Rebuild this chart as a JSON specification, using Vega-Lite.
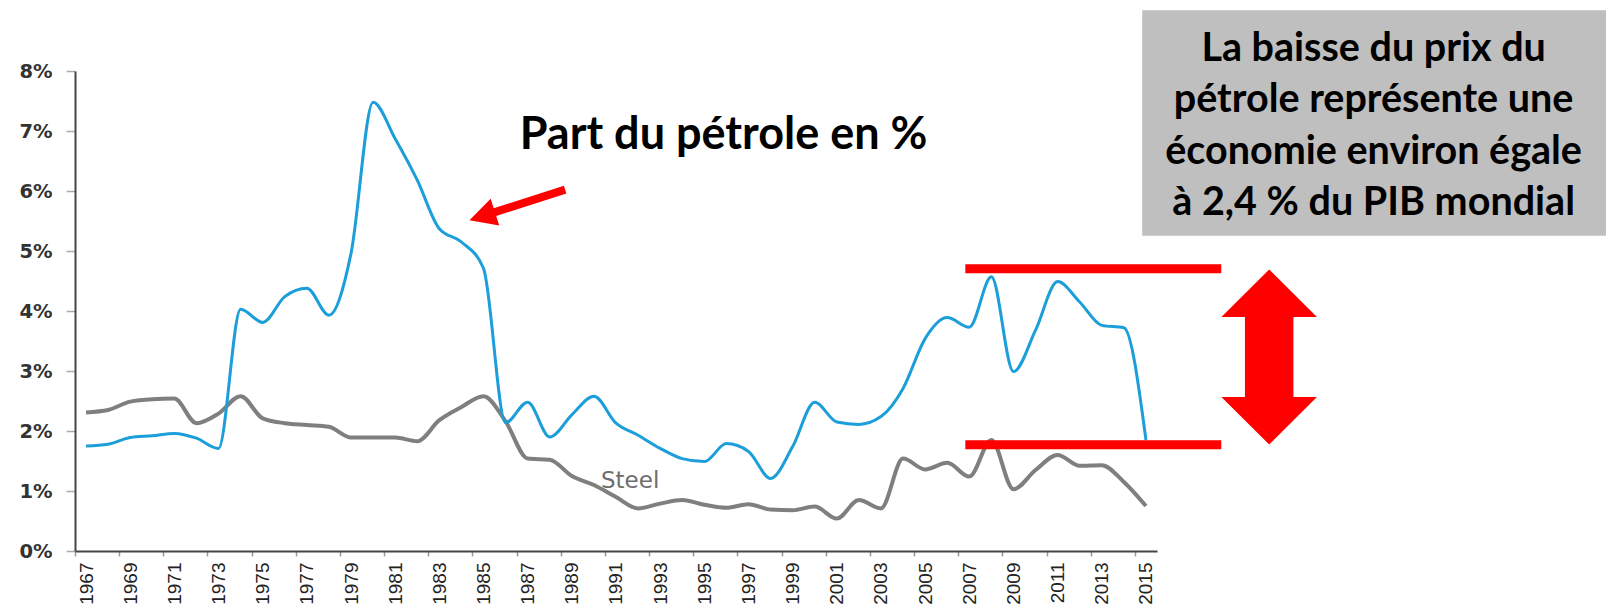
{
  "$schema": "https://vega.github.io/schema/vega-lite/v6.json",
  "width": 1082,
  "height": 480,
  "autosize": {"type": "none"},
  "padding": {"left": 75, "top": 71, "right": 449, "bottom": 56},
  "background": "white",
  "config": {"view": {"stroke": null}},
  "datasets": {
    "shares": [
      {"year": 1967, "oil": 1.75, "steel": 2.31},
      {"year": 1968, "oil": 1.78, "steel": 2.35},
      {"year": 1969, "oil": 1.89, "steel": 2.49},
      {"year": 1970, "oil": 1.92, "steel": 2.53},
      {"year": 1971, "oil": 1.96, "steel": 2.54},
      {"year": 1972, "oil": 1.88, "steel": 2.13},
      {"year": 1973, "oil": 1.71, "steel": 2.29},
      {"year": 1974, "oil": 4.03, "steel": 2.58},
      {"year": 1975, "oil": 3.81, "steel": 2.21},
      {"year": 1976, "oil": 4.24, "steel": 2.13},
      {"year": 1977, "oil": 4.38, "steel": 2.10},
      {"year": 1978, "oil": 3.93, "steel": 2.07},
      {"year": 1979, "oil": 4.96, "steel": 1.89},
      {"year": 1980, "oil": 7.48, "steel": 1.89},
      {"year": 1981, "oil": 6.87, "steel": 1.89},
      {"year": 1982, "oil": 6.18, "steel": 1.83},
      {"year": 1983, "oil": 5.37, "steel": 2.18},
      {"year": 1984, "oil": 5.15, "steel": 2.40},
      {"year": 1985, "oil": 4.71, "steel": 2.58},
      {"year": 1986, "oil": 2.14, "steel": 2.16},
      {"year": 1987, "oil": 2.48, "steel": 1.54},
      {"year": 1988, "oil": 1.90, "steel": 1.52},
      {"year": 1989, "oil": 2.27, "steel": 1.25},
      {"year": 1990, "oil": 2.58, "steel": 1.10},
      {"year": 1991, "oil": 2.13, "steel": 0.90},
      {"year": 1992, "oil": 1.93, "steel": 0.71},
      {"year": 1993, "oil": 1.71, "steel": 0.79},
      {"year": 1994, "oil": 1.54, "steel": 0.85},
      {"year": 1995, "oil": 1.49, "steel": 0.77},
      {"year": 1996, "oil": 1.79, "steel": 0.72},
      {"year": 1997, "oil": 1.66, "steel": 0.78},
      {"year": 1998, "oil": 1.21, "steel": 0.69},
      {"year": 1999, "oil": 1.74, "steel": 0.68},
      {"year": 2000, "oil": 2.48, "steel": 0.74},
      {"year": 2001, "oil": 2.15, "steel": 0.54},
      {"year": 2002, "oil": 2.11, "steel": 0.85},
      {"year": 2003, "oil": 2.24, "steel": 0.71},
      {"year": 2004, "oil": 2.71, "steel": 1.54},
      {"year": 2005, "oil": 3.54, "steel": 1.36},
      {"year": 2006, "oil": 3.89, "steel": 1.47},
      {"year": 2007, "oil": 3.73, "steel": 1.24},
      {"year": 2008, "oil": 4.57, "steel": 1.85},
      {"year": 2009, "oil": 2.99, "steel": 1.03},
      {"year": 2010, "oil": 3.68, "steel": 1.35},
      {"year": 2011, "oil": 4.49, "steel": 1.60},
      {"year": 2012, "oil": 4.15, "steel": 1.42},
      {"year": 2013, "oil": 3.76, "steel": 1.43},
      {"year": 2014, "oil": 3.72, "steel": 1.15},
      {"year": 2015, "oil": 1.85, "steel": 0.75}
    ]
  },
  "layer": [
    {
      "data": {"name": "shares"},
      "mark": {"type": "line", "interpolate": "monotone", "color": "#7f7f7f", "strokeWidth": 4},
      "encoding": {
        "x": {
          "field": "year", "type": "quantitative",
          "scale": {"domain": [1966.5, 2015.5], "nice": false, "zero": false},
          "axis": {
            "title": null,
            "grid": false,
            "values": [1966.5,1967.5,1968.5,1969.5,1970.5,1971.5,1972.5,1973.5,1974.5,1975.5,1976.5,1977.5,1978.5,1979.5,1980.5,1981.5,1982.5,1983.5,1984.5,1985.5,1986.5,1987.5,1988.5,1989.5,1990.5,1991.5,1992.5,1993.5,1994.5,1995.5,1996.5,1997.5,1998.5,1999.5,2000.5,2001.5,2002.5,2003.5,2004.5,2005.5,2006.5,2007.5,2008.5,2009.5,2010.5,2011.5,2012.5,2013.5,2014.5,2015.5],
            "labelExpr": "(datum.value + 0.5) % 2 == 1 ? toString(datum.value + 0.5) : ''",
            "labelOffset": 11.04,
            "labelAngle": -90,
            "labelAlign": "right",
            "labelBaseline": "middle",
            "labelPadding": 6,
            "labelFlush": false,
            "labelBound": false,
            "labelOverlap": false,
            "labelFont": "Liberation Sans",
            "labelFontSize": 19,
            "labelColor": "#222222",
            "tickSize": 5,
            "tickColor": "#999999",
            "tickWidth": 1.5,
            "domainColor": "#444444",
            "domainWidth": 2
          }
        },
        "y": {
          "field": "steel", "type": "quantitative",
          "scale": {"domain": [0, 8], "nice": false, "zero": true},
          "axis": {
            "title": null,
            "grid": false,
            "values": [0, 1, 2, 3, 4, 5, 6, 7, 8],
            "labelExpr": "datum.value + '%'",
            "labelFont": "DejaVu Sans",
            "labelFontWeight": "bold",
            "labelFontSize": 19.5,
            "labelColor": "#333333",
            "labelPadding": 14,
            "labelBaseline": "middle",
            "labelFlush": false,
            "tickSize": 9,
            "tickColor": "#aaaaaa",
            "tickWidth": 1.5,
            "domainColor": "#444444",
            "domainWidth": 2
          }
        }
      }
    },
    {
      "data": {"name": "shares"},
      "mark": {"type": "line", "interpolate": "monotone", "color": "#1b9ed9", "strokeWidth": 3},
      "encoding": {
        "x": {"field": "year", "type": "quantitative"},
        "y": {"field": "oil", "type": "quantitative"}
      }
    },
    {
      "data": {"values": [{"x": 1991.64, "y": 1.044, "label": "Steel"}]},
      "mark": {"type": "text", "align": "center", "baseline": "alphabetic", "font": "DejaVu Sans", "fontSize": 23, "color": "#6e6e6e"},
      "encoding": {
        "x": {"field": "x", "type": "quantitative"},
        "y": {"field": "y", "type": "quantitative"},
        "text": {"field": "label"}
      }
    },
    {
      "data": {"values": [{"x": 2006.82, "x2": 2018.41, "y": 4.705}, {"x": 2006.82, "x2": 2018.41, "y": 1.772}]},
      "mark": {"type": "rule", "color": "#ff0000", "strokeWidth": 9, "strokeCap": "butt"},
      "encoding": {
        "x": {"field": "x", "type": "quantitative"},
        "x2": {"field": "x2"},
        "y": {"field": "y", "type": "quantitative"}
      }
    },
    {
      "data": {"values": [{"x": 2020.58, "y": 3.234}]},
      "mark": {"type": "point", "shape": "M0,-1L0.546,-0.457L0.277,-0.457L0.277,0.457L0.546,0.457L0,1L-0.546,0.457L-0.277,0.457L-0.277,-0.457L-0.546,-0.457Z", "size": 30625, "filled": true, "fill": "#ff0000", "opacity": 1, "strokeWidth": 0},
      "encoding": {
        "x": {"field": "x", "type": "quantitative"},
        "y": {"field": "y", "type": "quantitative"}
      }
    },
    {
      "data": {"values": [{"x": 1986.53, "y": 5.768}]},
      "mark": {"type": "point", "shape": "M-1,0L-0.467,-0.28L-0.467,-0.08L1,-0.08L1,0.08L-0.467,0.08L-0.467,0.28Z", "size": 10100, "angle": 342.2, "filled": true, "fill": "#ff0000", "opacity": 1, "strokeWidth": 0},
      "encoding": {
        "x": {"field": "x", "type": "quantitative"},
        "y": {"field": "y", "type": "quantitative"}
      }
    },
    {
      "data": {"values": [{"x": 1995.87, "y": 6.707, "label": "Part du pétrole en %"}]},
      "mark": {"type": "text", "align": "center", "baseline": "alphabetic", "font": "Lato", "fontWeight": "bold", "fontSize": 45, "color": "#000000"},
      "encoding": {
        "x": {"field": "x", "type": "quantitative"},
        "y": {"field": "y", "type": "quantitative"},
        "text": {"field": "label"}
      }
    },
    {
      "data": {"values": [{"x": 2014.83, "x2": 2035.85, "y": 9.011, "y2": 5.255}]},
      "mark": {"type": "rect", "color": "#bfbfbf", "opacity": 1},
      "encoding": {
        "x": {"field": "x", "type": "quantitative"},
        "x2": {"field": "x2"},
        "y": {"field": "y", "type": "quantitative"},
        "y2": {"field": "y2"}
      }
    },
    {
      "data": {"values": [{"x": 2025.31, "y": 8.69, "label": "La baisse du prix du\npétrole représente une\néconomie environ égale\nà 2,4 % du PIB mondial"}]},
      "mark": {"type": "text", "align": "center", "baseline": "top", "lineBreak": "\n", "lineHeight": 51.5, "font": "Lato", "fontWeight": "bold", "fontSize": 39.5, "color": "#000000"},
      "encoding": {
        "x": {"field": "x", "type": "quantitative"},
        "y": {"field": "y", "type": "quantitative"},
        "text": {"field": "label"}
      }
    }
  ]
}
